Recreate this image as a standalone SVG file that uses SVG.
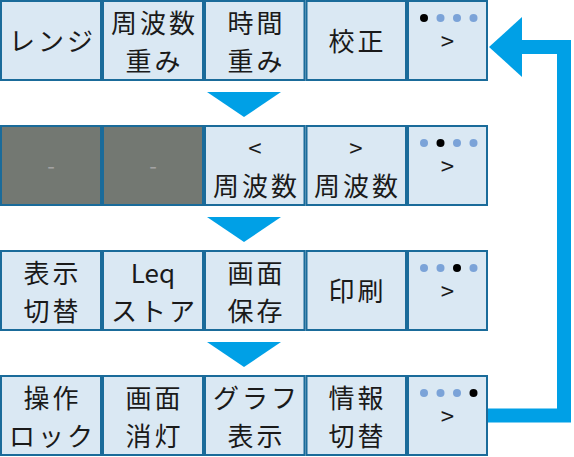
<svg xmlns="http://www.w3.org/2000/svg" width="574" height="457" viewBox="0 0 574 457">
<style>
.b{fill:#dae8f3;stroke:#1a6b9a;stroke-width:2}
.g{fill:#737872;stroke:#1a6b9a;stroke-width:2}
.t{font-family:"Noto Sans CJK JP","Noto Sans",sans-serif;font-size:26px;fill:#1a1a1a;text-anchor:middle;letter-spacing:3px}
.s{font-family:"Noto Sans CJK JP","Noto Sans",sans-serif;font-size:24px;fill:#1a1a1a;text-anchor:middle}
.d{font-family:"Noto Sans CJK JP","Noto Sans",sans-serif;font-size:22px;fill:#a3a3a3;text-anchor:middle}
.on{fill:#000}
.off{fill:#7ba3d8}
.c{fill:#00a0e6}
</style>
<!-- Row 1 -->
<g id="r1c1"><rect class="b" x="1" y="1" width="100" height="79"/><text class="t" x="52.5" y="51">レンジ</text></g>
<g id="r1c2"><rect class="b" x="103" y="1" width="100" height="79"/><text class="t" x="154.5" y="33">周波数</text><text class="t" x="154.5" y="71">重み</text></g>
<g id="r1c3"><rect class="b" x="205" y="1" width="99.5" height="79"/><text class="t" x="256.5" y="33">時間</text><text class="t" x="256.5" y="71">重み</text></g>
<g id="r1c4"><rect class="b" x="306.5" y="1" width="99.5" height="79"/><text class="t" x="357.5" y="51">校正</text></g>
<g id="r1c5"><rect class="b" x="408" y="1" width="79" height="79"/>
<circle class="on" cx="424" cy="18" r="4"/><circle class="off" cx="440.5" cy="18" r="4"/><circle class="off" cx="457" cy="18" r="4"/><circle class="off" cx="473.5" cy="18" r="4"/>
<text class="s" x="447.5" y="50">&gt;</text></g>
<!-- Row 2 -->
<g id="r2c1"><rect class="g" x="1" y="126" width="100" height="79"/><text class="d" x="51" y="174">-</text></g>
<g id="r2c2"><rect class="g" x="103" y="126" width="100" height="79"/><text class="d" x="153" y="174">-</text></g>
<g id="r2c3"><rect class="b" x="205" y="126" width="99.5" height="79"/><text class="s" x="255" y="157">&lt;</text><text class="t" x="256.5" y="196">周波数</text></g>
<g id="r2c4"><rect class="b" x="306.5" y="126" width="99.5" height="79"/><text class="s" x="356" y="157">&gt;</text><text class="t" x="357.5" y="196">周波数</text></g>
<g id="r2c5"><rect class="b" x="408" y="126" width="79" height="79"/>
<circle class="off" cx="424" cy="143" r="4"/><circle class="on" cx="440.5" cy="143" r="4"/><circle class="off" cx="457" cy="143" r="4"/><circle class="off" cx="473.5" cy="143" r="4"/>
<text class="s" x="447.5" y="175">&gt;</text></g>
<!-- Row 3 -->
<g id="r3c1"><rect class="b" x="1" y="251" width="100" height="79"/><text class="t" x="52.5" y="283">表示</text><text class="t" x="52.5" y="321">切替</text></g>
<g id="r3c2"><rect class="b" x="103" y="251" width="100" height="79"/><text class="t" x="153" y="283" style="letter-spacing:0">Leq</text><text class="t" x="154.5" y="321">ストア</text></g>
<g id="r3c3"><rect class="b" x="205" y="251" width="99.5" height="79"/><text class="t" x="256.5" y="283">画面</text><text class="t" x="256.5" y="321">保存</text></g>
<g id="r3c4"><rect class="b" x="306.5" y="251" width="99.5" height="79"/><text class="t" x="357.5" y="301">印刷</text></g>
<g id="r3c5"><rect class="b" x="408" y="251" width="79" height="79"/>
<circle class="off" cx="424" cy="268" r="4"/><circle class="off" cx="440.5" cy="268" r="4"/><circle class="on" cx="457" cy="268" r="4"/><circle class="off" cx="473.5" cy="268" r="4"/>
<text class="s" x="447.5" y="300">&gt;</text></g>
<!-- Row 4 -->
<g id="r4c1"><rect class="b" x="1" y="376" width="100" height="79"/><text class="t" x="52.5" y="408">操作</text><text class="t" x="52.5" y="446">ロック</text></g>
<g id="r4c2"><rect class="b" x="103" y="376" width="100" height="79"/><text class="t" x="154.5" y="408">画面</text><text class="t" x="154.5" y="446">消灯</text></g>
<g id="r4c3"><rect class="b" x="205" y="376" width="99.5" height="79"/><text class="t" x="256.5" y="408">グラフ</text><text class="t" x="256.5" y="446">表示</text></g>
<g id="r4c4"><rect class="b" x="306.5" y="376" width="99.5" height="79"/><text class="t" x="357.5" y="408">情報</text><text class="t" x="357.5" y="446">切替</text></g>
<g id="r4c5"><rect class="b" x="408" y="376" width="79" height="79"/>
<circle class="off" cx="424" cy="393" r="4"/><circle class="off" cx="440.5" cy="393" r="4"/><circle class="off" cx="457" cy="393" r="4"/><circle class="on" cx="473.5" cy="393" r="4"/>
<text class="s" x="447.5" y="425">&gt;</text></g>
<!-- Connectors -->
<g id="connectors">
<polygon class="c" points="207,92 281,92 244,117"/>
<polygon class="c" points="207,217 281,217 244,242"/>
<polygon class="c" points="207,342 281,342 244,367"/>
<polyline points="488,415.5 564,415.5 564,47 520,47" fill="none" stroke="#00a0e6" stroke-width="14"/>
<polygon class="c" points="489,47 522,17 522,77"/>
</g>
</svg>
